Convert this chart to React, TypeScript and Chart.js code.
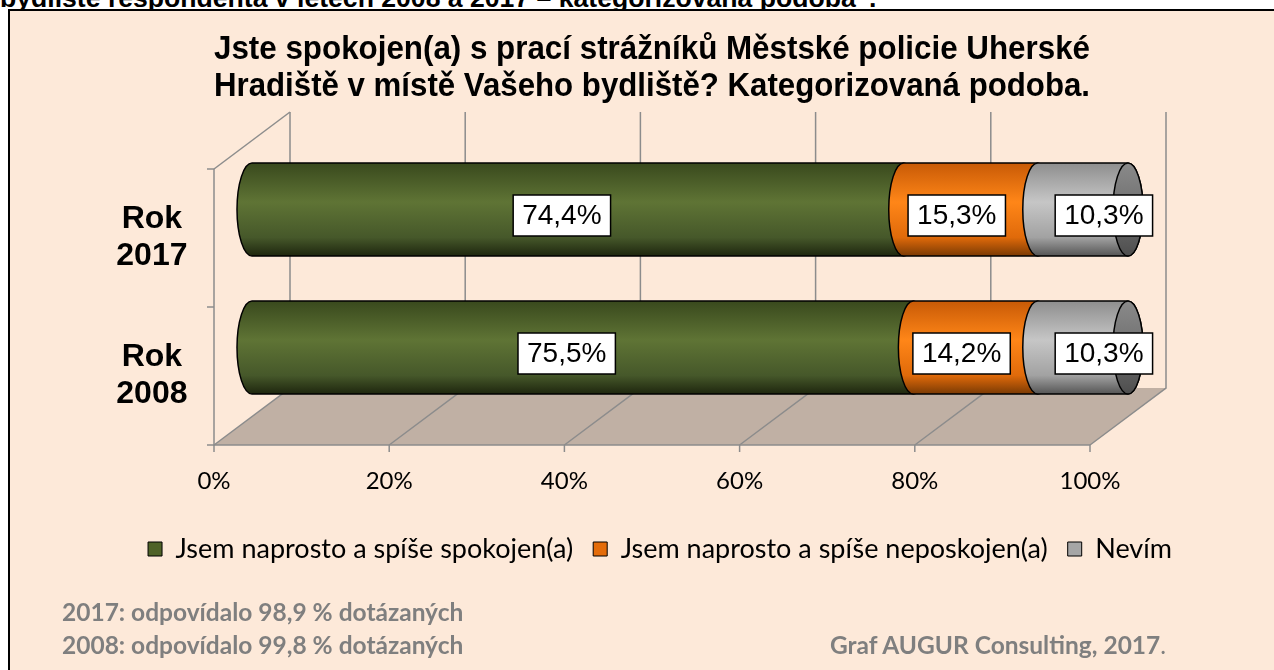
import React, { useEffect, useRef } from 'react';
import { Chart, registerables } from 'chart.js';

Chart.register(...registerables);

const pageHeading = 'bydliště respondenta v letech 2008 a 2017 – kategorizovaná podoba“.';
const titleLines = [
  'Jste spokojen(a) s prací strážníků Městské policie Uherské',
  'Hradiště v místě Vašeho bydliště? Kategorizovaná podoba.',
];
const categories = [['Rok', '2017'], ['Rok', '2008']];
const seriesLabels = [
  'Jsem naprosto a spíše spokojen(a)',
  'Jsem naprosto a spíše neposkojen(a)',
  'Nevím',
];
const satisfiedValues = [74.4, 75.5];
const dissatisfiedValues = [15.3, 14.2];
const dontKnowValues = [10.3, 10.3];
const xTickValues = [0, 20, 40, 60, 80, 100];
const noteLines = ['2017: odpovídalo 98,9 % dotázaných', '2008: odpovídalo 99,8 % dotázaných'];
const creditText = 'Graf AUGUR Consulting, 2017';

const palettes = [
  { legend: '#4F6228', stops: ['#39491D', '#5F7435', '#46582A', '#1E260E'] },
  { legend: '#E46C0A', stops: ['#C85A06', '#FF8618', '#E06A0A', '#7A3A04'] },
  { legend: '#A6A6A6', stops: ['#8E8E8E', '#C6C6C6', '#A2A2A2', '#555555'] },
];
const capFace = ['#8A8A8A', '#707070', '#4E4E4E'];

const DEPTH_X = 76;
const DEPTH_Y = 57;
const CAP_RX = 15;
const labelShiftX = [-16, -14, 21];
const LABEL_SHIFT_Y = 6;
const WALL = '#8C8C8C';
const FLOOR = '#C0B0A4';

const fmt = (v: number) => v.toFixed(1).replace('.', ',') + '%';

function cylinderPath(ctx: CanvasRenderingContext2D, x0: number, x1: number, top: number, bot: number) {
  const cy = (top + bot) / 2;
  const ry = (bot - top) / 2;
  ctx.beginPath();
  ctx.moveTo(x0, top);
  ctx.lineTo(x1, top);
  ctx.ellipse(x1, cy, CAP_RX, ry, 0, -Math.PI / 2, Math.PI / 2, false);
  ctx.lineTo(x0, bot);
  ctx.ellipse(x0, cy, CAP_RX, ry, 0, Math.PI / 2, (3 * Math.PI) / 2, false);
  ctx.closePath();
}

const depthPlugin = {
  id: 'depth3d',
  beforeDatasetsDraw(chart: any) {
    const { ctx, chartArea } = chart;
    const xs = chart.scales.x;
    const { left, right, top, bottom } = chartArea;
    ctx.save();
    ctx.fillStyle = FLOOR;
    ctx.beginPath();
    ctx.moveTo(left, bottom);
    ctx.lineTo(right, bottom);
    ctx.lineTo(right + DEPTH_X, bottom - DEPTH_Y);
    ctx.lineTo(left + DEPTH_X, bottom - DEPTH_Y);
    ctx.closePath();
    ctx.fill();
    ctx.strokeStyle = WALL;
    ctx.lineWidth = 1.5;
    xTickValues.forEach((v) => {
      const px = xs.getPixelForValue(v);
      ctx.beginPath();
      ctx.moveTo(px, bottom);
      ctx.lineTo(px + DEPTH_X, bottom - DEPTH_Y);
      ctx.lineTo(px + DEPTH_X, top - DEPTH_Y);
      ctx.stroke();
      ctx.beginPath();
      ctx.moveTo(px, bottom);
      ctx.lineTo(px, bottom + 7);
      ctx.stroke();
    });
    ctx.beginPath();
    ctx.moveTo(left, top);
    ctx.lineTo(left + DEPTH_X, top - DEPTH_Y);
    ctx.stroke();
    ctx.beginPath();
    ctx.moveTo(left, top);
    ctx.lineTo(left, bottom);
    ctx.lineTo(right, bottom);
    ctx.stroke();
    const n = chart.data.labels.length;
    for (let k = 0; k <= n; k++) {
      const y = top + ((bottom - top) * k) / n;
      ctx.beginPath();
      ctx.moveTo(left - 7, y);
      ctx.lineTo(left, y);
      ctx.stroke();
    }
    ctx.restore();
  },
  beforeDatasetDraw() {
    return false;
  },
  afterDatasetsDraw(chart: any) {
    const { ctx } = chart;
    const metas = chart.data.datasets.map((_: any, i: number) => chart.getDatasetMeta(i));
    const n = chart.data.labels.length;
    ctx.save();
    ctx.lineWidth = 1.5;
    ctx.strokeStyle = '#000';
    const labels: any[] = [];
    for (let j = 0; j < n; j++) {
      metas.forEach((meta: any, i: number) => {
        const el = meta.data[j];
        const p = el.getProps(['x', 'y', 'base', 'height'], true);
        const x0 = Math.min(p.x, p.base) + DEPTH_X / 2;
        const x1 = Math.max(p.x, p.base) + DEPTH_X / 2;
        const cy = p.y - DEPTH_Y / 2;
        const t = cy - p.height / 2;
        const b = cy + p.height / 2;
        const g = ctx.createLinearGradient(0, t, 0, b);
        const st = palettes[i].stops;
        g.addColorStop(0, st[0]);
        g.addColorStop(0.42, st[1]);
        g.addColorStop(0.8, st[2]);
        g.addColorStop(1, st[3]);
        cylinderPath(ctx, x0, x1, t, b);
        ctx.fillStyle = g;
        ctx.fill();
        ctx.stroke();
        if (i === metas.length - 1) {
          const fg = ctx.createLinearGradient(0, t, 0, b);
          fg.addColorStop(0, capFace[0]);
          fg.addColorStop(0.5, capFace[1]);
          fg.addColorStop(1, capFace[2]);
          ctx.beginPath();
          ctx.ellipse(x1, cy, CAP_RX, (b - t) / 2, 0, 0, Math.PI * 2);
          ctx.fillStyle = fg;
          ctx.fill();
          ctx.stroke();
        }
        const v = chart.data.datasets[i].data[j];
        labels.push({ text: fmt(v), x: (x0 + x1) / 2 + labelShiftX[i], y: cy + LABEL_SHIFT_Y });
      });
    }
    ctx.font = '28px "Liberation Sans", Arial, sans-serif';
    ctx.textAlign = 'center';
    ctx.textBaseline = 'middle';
    labels.forEach((l) => {
      const w = ctx.measureText(l.text).width + 18;
      const h = 41;
      ctx.fillStyle = '#fff';
      ctx.fillRect(l.x - w / 2, l.y - h / 2, w, h);
      ctx.lineWidth = 1.5;
      ctx.strokeStyle = '#000';
      ctx.strokeRect(l.x - w / 2, l.y - h / 2, w, h);
      ctx.fillStyle = '#000';
      ctx.fillText(l.text, l.x, l.y + 1);
    });
    ctx.restore();
  },
};

export default function App() {
  const ref = useRef<HTMLCanvasElement>(null);
  useEffect(() => {
    const seriesValues = [satisfiedValues, dissatisfiedValues, dontKnowValues];
    const chart = new Chart(ref.current as HTMLCanvasElement, {
      type: 'bar',
      data: {
        labels: categories,
        datasets: seriesValues.map((vals, i) => ({
          label: seriesLabels[i],
          data: vals,
          backgroundColor: palettes[i].legend,
          borderColor: '#000',
          borderWidth: 1,
          categoryPercentage: 1,
          barPercentage: 0.674,
        })),
      },
      options: {
        animation: false,
        responsive: false,
        devicePixelRatio: 1,
        indexAxis: 'y',
        layout: { padding: { left: 72, right: 26, top: 0, bottom: 97.5 } },
        scales: {
          x: {
            stacked: true,
            min: 0,
            max: 100,
            position: 'bottom',
            afterBuildTicks: (s: any) => {
              s.ticks = xTickValues.map((v) => ({ value: v }));
            },
            ticks: {
              callback: (v: any) => v + '%',
              font: { family: 'Lato', size: 24 },
              color: '#000',
              padding: 21.5,
              maxRotation: 0,
            },
            grid: { display: false, drawTicks: false },
            border: { display: false },
            afterFit: (s: any) => {
              s.height = 70.5;
            },
          },
          y: {
            stacked: true,
            position: 'left',
            ticks: {
              font: { family: '"Liberation Sans", Arial', size: 32, weight: 'bold', lineHeight: 37 / 32 },
              color: '#000',
              crossAlign: 'center',
              padding: 26.5,
            },
            grid: { display: false, drawTicks: false },
            border: { display: false },
            afterFit: (s: any) => {
              s.width = 142;
            },
          },
          yRight: {
            type: 'category',
            position: 'right',
            ticks: { display: false },
            grid: { display: false, drawTicks: false },
            border: { display: false },
            afterFit: (s: any) => {
              s.width = 158;
            },
          },
        },
        plugins: {
          title: {
            display: true,
            fullSize: false,
            text: titleLines,
            color: '#000',
            font: { family: '"Liberation Sans", Arial', size: 33.3, weight: 'bold', lineHeight: 37 / 33.3 },
            padding: { top: 31.5, bottom: 63.5 },
          },
          legend: {
            position: 'bottom',
            labels: {
              font: { family: 'Lato', size: 27 },
              color: '#000',
              boxWidth: 14,
              boxHeight: 14,
              padding: 20,
            },
          },
          tooltip: { enabled: false },
        },
      },
      plugins: [depthPlugin],
    } as any);
    return () => chart.destroy();
  }, []);

  return (
    <div style={{ position: 'fixed', left: 0, top: 0, width: 1274, height: 670, overflow: 'hidden', background: '#fff' }}>
      <div
        style={{
          position: 'absolute',
          left: 0,
          top: -15,
          whiteSpace: 'nowrap',
          font: 'bold 26.6px "Liberation Sans", Arial, sans-serif',
          lineHeight: '26px',
          color: '#000',
        }}
      >
        {pageHeading}
      </div>
      <div
        style={{
          position: 'absolute',
          left: 8,
          top: 9,
          width: 1300,
          height: 700,
          border: '2px solid #000',
          background: '#FDE9D9',
        }}
      />
      <canvas ref={ref} width={1274} height={670} style={{ position: 'absolute', left: 0, top: 0, width: 1274, height: 670 }} />
      <div
        style={{
          position: 'absolute',
          left: 62,
          top: 595,
          font: 'bold 24.5px Lato, sans-serif',
          lineHeight: '33px',
          color: '#7F7F7F',
          whiteSpace: 'nowrap',
        }}
      >
        <div>{noteLines[0]}</div>
        <div>{noteLines[1]}</div>
      </div>
      <div
        style={{
          position: 'absolute',
          left: 830,
          top: 628,
          font: 'bold 24.5px Lato, sans-serif',
          lineHeight: '33px',
          color: '#7F7F7F',
          whiteSpace: 'nowrap',
        }}
      >
        {creditText}
        <span style={{ fontWeight: 'normal' }}>.</span>
      </div>
    </div>
  );
}
